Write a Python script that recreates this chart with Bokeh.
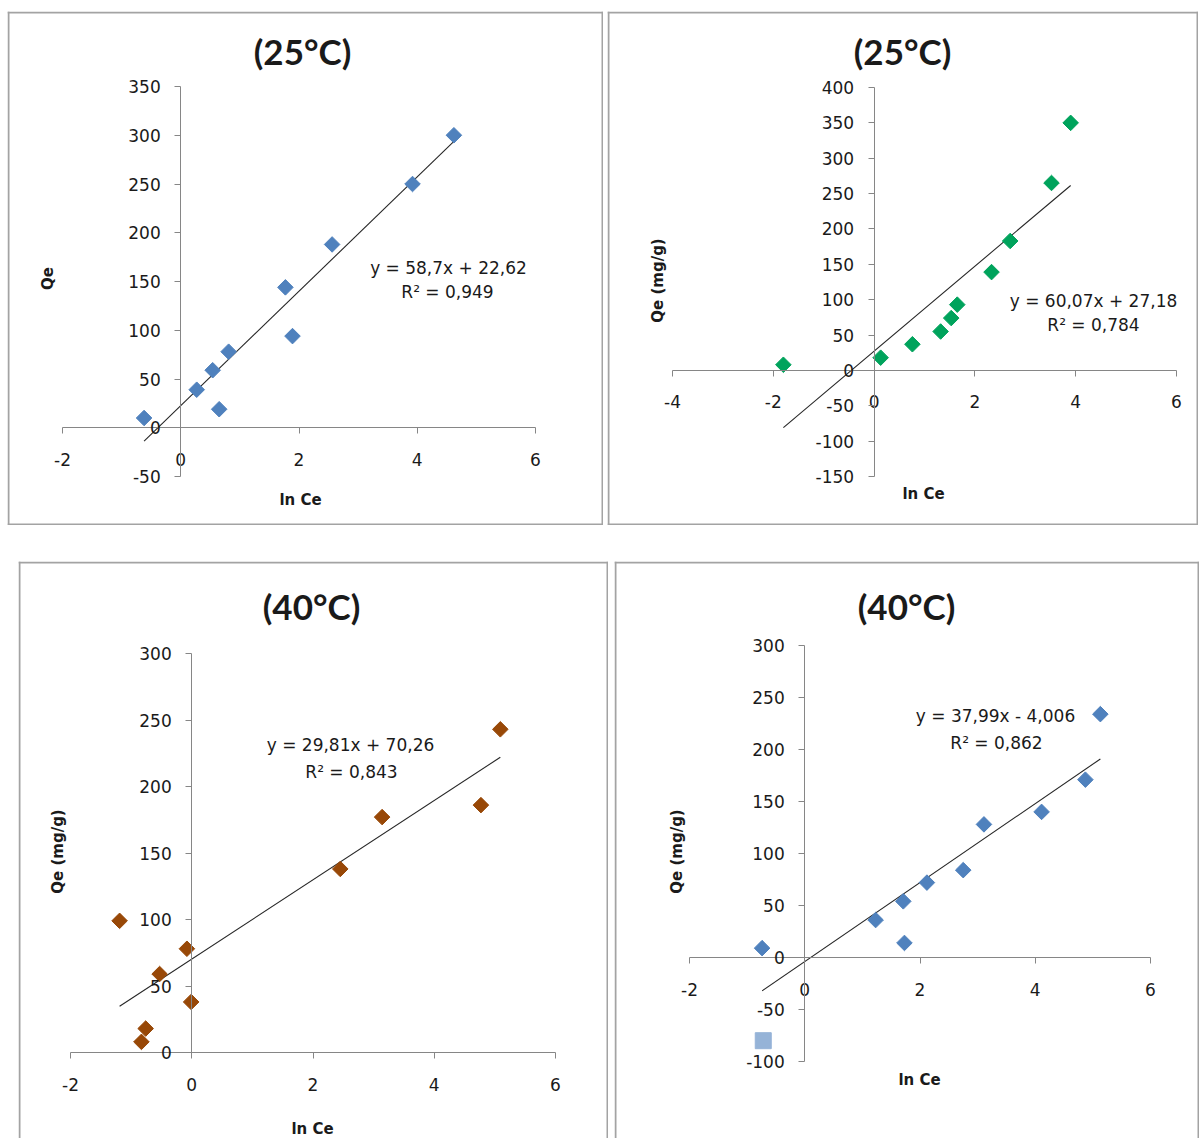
import math

from bokeh.embed import file_html
from bokeh.layouts import column, row
from bokeh.models import FixedTicker, Label, Range1d, Spacer, Span
from bokeh.plotting import figure
from bokeh.resources import INLINE

# ---- data -------------------------------------------------------------
# 25 °C, first series
ln_ce_25a = [-0.62, 0.27, 0.54, 0.65, 0.81, 1.77, 1.89, 2.56, 3.92, 4.62]
qe_25a = [10, 39, 59, 19, 78, 144, 94, 188, 250, 300]
fit_25a = (58.7, 22.62, "0,949")

# 25 °C, second series
ln_ce_25b = [-1.80, 0.13, 0.76, 1.32, 1.53, 1.65, 2.33, 2.70, 3.52, 3.90]
qe_25b = [8, 18, 37, 55, 74, 93, 139, 183, 265, 350]
fit_25b = (60.07, 27.18, "0,784")

# 40 °C, first series
ln_ce_40a = [-1.19, -0.83, -0.76, -0.53, -0.08, -0.01, 2.45, 3.14, 4.77, 5.09]
qe_40a = [99, 8, 18, 59, 78, 38, 138, 177, 186, 243]
fit_40a = (29.81, 70.26, "0,843")

# 40 °C, second series (plus one extra point)
ln_ce_40b = [-0.74, 1.23, 1.71, 1.73, 2.12, 2.75, 3.11, 4.11, 4.87, 5.13]
qe_40b = [9, 36, 54, 14, 72, 84, 128, 140, 171, 234]
fit_40b = (37.99, -4.006, "0,862")
extra_40b_x = [-0.72]
extra_40b_y = [-80]

x_ticks_a = [-2, 0, 2, 4, 6]
x_ticks_b = [-4, -2, 0, 2, 4, 6]
y_ticks_25a = [-50, 0, 50, 100, 150, 200, 250, 300, 350]
y_ticks_25b = [-150, -100, -50, 0, 50, 100, 150, 200, 250, 300, 350, 400]
y_ticks_40a = [0, 50, 100, 150, 200, 250, 300]
y_ticks_40b = [-100, -50, 0, 50, 100, 150, 200, 250, 300]

# ---- styling ----------------------------------------------------------
AXIS_GREY = "#868686"
BORDER_GREY = "#a3a3a3"
TEXT = "#1a1a1a"
TICK_FONT = "DejaVu Sans"
TITLE_FONT = "Lato"


def eq_text(slope, icpt):
    s = f"{slope:g}".replace(".", ",")
    i = f"{abs(icpt):g}".replace(".", ",")
    sign = "+" if icpt >= 0 else "-"
    return f"y = {s}x {sign} {i}"


def panel(cfg):
    """One chart box; the plot frame fills the whole canvas and the
    axes cross at the origin, limited to the tick range."""
    (bx, by, w, h) = cfg["box"]
    (xmin, xmax, xp0, xp1) = cfg["xmap"]
    (ymin, ymax, yp0, yp1) = cfg["ymap"]
    kx = (xp1 - xp0) / (xmax - xmin)
    ky = (yp1 - yp0) / (ymax - ymin)

    def to_data(px, py):
        return xmin + (px - xp0) / kx, ymax - (py - yp0) / ky

    x0, y_top = to_data(bx, by)
    x1, y_bot = to_data(bx + w, by + h)

    p = figure(
        width=w, height=h,
        x_range=Range1d(x0, x1), y_range=Range1d(y_bot, y_top),
        output_backend="svg", toolbar_location=None,
        min_border=0,
        background_fill_color="white", border_fill_color="white",
    )
    p.outline_line_color = None
    p.xgrid.visible = False
    p.ygrid.visible = False

    p.xaxis.fixed_location = 0
    p.yaxis.fixed_location = 0
    p.xaxis.bounds = (xmin, xmax)
    p.yaxis.bounds = (ymin, ymax)
    p.xaxis.ticker = FixedTicker(ticks=cfg["xticks"])
    p.yaxis.ticker = FixedTicker(ticks=cfg["yticks"])
    p.xaxis.major_label_overrides = {float(t): str(t) for t in cfg["xticks"]}
    p.yaxis.major_label_overrides = {float(t): str(t) for t in cfg["yticks"]}
    for ax in (p.xaxis[0], p.yaxis[0]):
        ax.axis_line_color = AXIS_GREY
        ax.major_tick_line_color = AXIS_GREY
        ax.minor_tick_line_color = None
        ax.major_tick_in = 0
        ax.major_tick_out = 6
        ax.major_label_text_font = TICK_FONT
        ax.major_label_text_font_size = "17px"
        ax.major_label_text_color = TEXT
    p.xaxis.major_label_standoff = 19
    p.yaxis.major_label_standoff = 14

    # box border, drawn just inside the canvas edges
    edges = [("height", to_data(bx + 1, by)[0]), ("height", to_data(bx + w - 1, by)[0]),
             ("width", to_data(bx, by + 1)[1])]
    if cfg.get("closed", True):
        edges.append(("width", to_data(bx, by + h - 1)[1]))
    for dim, loc in edges:
        p.add_layout(Span(location=loc, dimension=dim,
                          line_color=BORDER_GREY, line_width=2))

    xs, ys = cfg["x"], cfg["y"]
    slope, icpt, r2 = cfg["fit"]
    lo, hi = min(xs), max(xs)
    p.line([lo, hi], [slope * lo + icpt, slope * hi + icpt],
           line_color="#262626", line_width=1.1)
    p.scatter(xs, ys, marker="square", size=11, angle=math.pi / 4,
              fill_color=cfg["color"], line_color=cfg["color"], line_width=1)
    if "extra" in cfg:
        ex, ey, ec = cfg["extra"]
        p.scatter(ex, ey, marker="square", size=16, fill_color=ec, line_color=ec)

    def put(text, px, py, size, bold=False, font=TICK_FONT, angle=0.0):
        x, y = to_data(px, py)
        p.add_layout(Label(
            x=x, y=y, text=text, text_align="center", text_baseline="middle",
            text_font=font, text_font_size=size, angle=angle,
            text_font_style="bold" if bold else "normal", text_color=TEXT,
        ))

    put(cfg["title"], *cfg["title_at"], "35px", bold=True, font=TITLE_FONT)
    put("ln Ce", *cfg["xlabel_at"], "15px", bold=True)
    put(cfg["ylabel"], *cfg["ylabel_at"], "15px", bold=True, angle=math.pi / 2)
    put(eq_text(slope, icpt), *cfg["eq_at"], "17px")
    put(f"R² = {r2}", *cfg["r2_at"], "17px")
    return p


p1 = panel(dict(
    box=(7, 11, 596, 514), xmap=(-2, 6, 62, 535), ymap=(-50, 350, 86, 476),
    xticks=x_ticks_a, yticks=y_ticks_25a, x=ln_ce_25a, y=qe_25a, fit=fit_25a,
    color="#4f81bd", title="(25°C)", ylabel="Qe",
    title_at=(302, 50), xlabel_at=(300, 499), ylabel_at=(47, 278),
    eq_at=(448, 267), r2_at=(447, 291),
))
p2 = panel(dict(
    box=(607, 11, 591, 514), xmap=(-4, 6, 672, 1176), ymap=(-150, 400, 87, 476),
    xticks=x_ticks_b, yticks=y_ticks_25b, x=ln_ce_25b, y=qe_25b, fit=fit_25b,
    color="#00a35c", title="(25°C)", ylabel="Qe (mg/g)",
    title_at=(902, 50), xlabel_at=(923, 493), ylabel_at=(657, 280),
    eq_at=(1093, 300), r2_at=(1093, 324),
))
p3 = panel(dict(
    box=(18, 561, 590, 577), xmap=(-2, 6, 70, 555), ymap=(0, 300, 653, 1052),
    xticks=x_ticks_a, yticks=y_ticks_40a, x=ln_ce_40a, y=qe_40a, fit=fit_40a,
    color="#984807", title="(40°C)", ylabel="Qe (mg/g)", closed=False,
    title_at=(311, 605), xlabel_at=(312, 1128), ylabel_at=(57, 851),
    eq_at=(350, 744), r2_at=(351, 771),
))
p4 = panel(dict(
    box=(614, 561, 585, 577), xmap=(-2, 6, 689, 1150), ymap=(-100, 300, 645, 1061),
    xticks=x_ticks_a, yticks=y_ticks_40b, x=ln_ce_40b, y=qe_40b, fit=fit_40b,
    color="#4f81bd", title="(40°C)", ylabel="Qe (mg/g)", closed=False,
    extra=(extra_40b_x, extra_40b_y, "#95b3d7"),
    title_at=(906, 605), xlabel_at=(919, 1079), ylabel_at=(676, 851),
    eq_at=(995, 715), r2_at=(996, 742),
))

layout = column(
    Spacer(height=11),
    row(Spacer(width=7), p1, Spacer(width=4), p2),
    Spacer(height=36),
    row(Spacer(width=18), p3, Spacer(width=6), p4),
)

open("out.html", "w").write(file_html(layout, INLINE))
